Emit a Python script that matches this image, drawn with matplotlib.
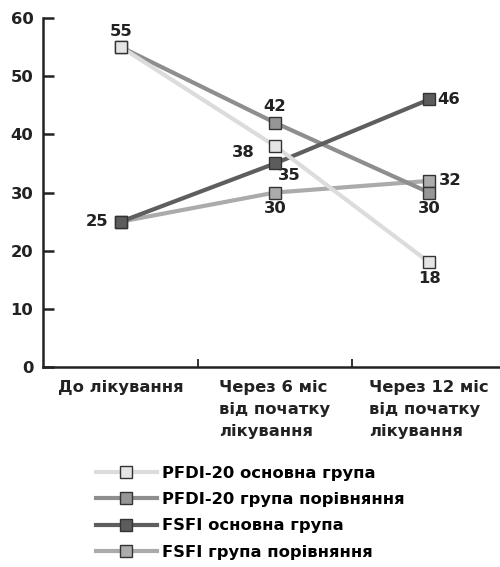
import matplotlib.pyplot as plt
from matplotlib.lines import Line2D

plt.rcParams['font.family'] = ['DejaVu Sans']
plt.rcParams['font.weight'] = 'bold'

periods = ["До лікування", "Через 6 міс\nвід початку\nлікування", "Через 12 міс\nвід початку\nлікування"]
series_names = ["PFDI-20 основна група", "PFDI-20 група порівняння",
                "FSFI основна група", "FSFI група порівняння"]
pfdi_main = [55, 38, 18]
pfdi_comp = [55, 42, 30]
fsfi_main = [25, 35, 46]
fsfi_comp = [25, 30, 32]

line_colors = ["#dcdcdc", "#8e8e8e", "#5e5e5e", "#ababab"]
face_colors = ["#e4e4e4", "#969696", "#5c5c5c", "#acacac"]

fig = plt.figure(figsize=(5, 5.67), dpi=100)
ax = fig.add_axes([0.086, 0.3527, 0.914, 0.6155])

x = [0, 1, 2]
data = [pfdi_main, pfdi_comp, fsfi_main, fsfi_comp]
# draw so the overlapping squares stack as printed
order = [3, 1, 2, 0]
for z, i in enumerate(order):
    ax.plot(x, data[i], color=line_colors[i], lw=3, marker='s', ms=9,
            mfc=face_colors[i], mec='#333333', mew=1, zorder=2 + z)

fs = 11.8
lbl = dict(fontsize=fs, fontweight='bold', color='#222222', textcoords='offset points')
ax.annotate(str(pfdi_main[0]), (0, pfdi_main[0]), xytext=(0, 6), ha='center', va='bottom', **lbl)
ax.annotate(str(fsfi_main[0]), (0, fsfi_main[0]), xytext=(-9, 0), ha='right', va='center', **lbl)
ax.annotate(str(pfdi_comp[1]), (1, pfdi_comp[1]), xytext=(0, 6), ha='center', va='bottom', **lbl)
ax.annotate(str(pfdi_main[1]), (1, pfdi_main[1]), xytext=(-15, -5), ha='right', va='center', **lbl)
ax.annotate(str(fsfi_main[1]), (1, fsfi_main[1]), xytext=(2, -3), ha='left', va='top', **lbl)
ax.annotate(str(fsfi_comp[1]), (1, fsfi_comp[1]), xytext=(0, -6), ha='center', va='top', **lbl)
ax.annotate(str(fsfi_main[2]), (2, fsfi_main[2]), xytext=(6, 0), ha='left', va='center', **lbl)
ax.annotate(str(fsfi_comp[2]), (2, fsfi_comp[2]), xytext=(7, 0), ha='left', va='center', **lbl)
ax.annotate(str(pfdi_comp[2]), (2, pfdi_comp[2]), xytext=(0, -6), ha='center', va='top', **lbl)
ax.annotate(str(pfdi_main[2]), (2, pfdi_main[2]), xytext=(0, -6), ha='center', va='top', **lbl)

ax.set_xlim(-0.506, 2.46)
ax.set_ylim(0, 60)
ax.set_yticks(range(0, 61, 10))
ax.tick_params(axis='y', direction='in', length=8, width=1.8, labelsize=fs, pad=7, colors='#222222')
ax.set_xticks([0.5, 1.5])
ax.set_xticklabels([])
ax.tick_params(axis='x', which='major', direction='in', length=6, width=1.3, colors='#222222')
ax.set_xticks(x, minor=True)
ax.set_xticklabels(periods, minor=True, fontsize=fs, fontweight='bold', multialignment='left', linespacing=1.6)
ax.tick_params(axis='x', which='minor', length=0, pad=9, colors='#222222')
for s in ['top', 'right']:
    ax.spines[s].set_visible(False)
for s in ['left', 'bottom']:
    ax.spines[s].set_linewidth(1.8)
    ax.spines[s].set_color('#222222')

leg_handles = [Line2D([], [], color=line_colors[i], lw=3, marker='s', ms=9,
                      mfc=face_colors[i], mec='#333333', mew=1) for i in range(4)]
fig.legend(leg_handles, series_names, loc='upper left', bbox_to_anchor=(0.192, 0.178),
           frameon=False, fontsize=fs, handlelength=3.7, handletextpad=0.35,
           labelspacing=0.68, borderaxespad=0, borderpad=0)

fig.savefig('out.png', dpi=100)
